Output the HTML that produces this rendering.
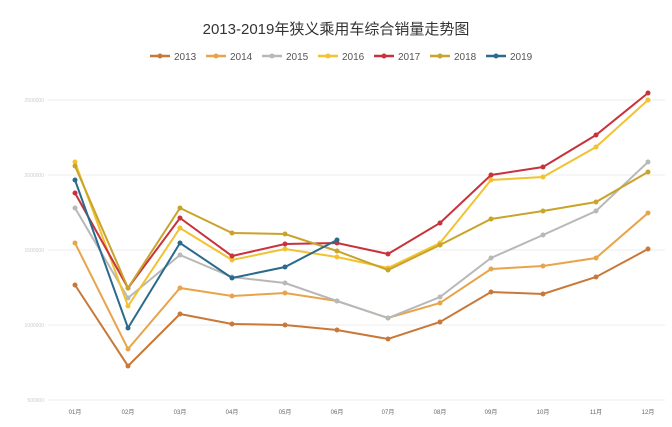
<!DOCTYPE html>
<html><head><meta charset="utf-8"><style>
body{margin:0;background:#fff}
svg{display:block;font-family:"Liberation Sans","Noto Sans CJK SC",sans-serif}
</style></head><body>
<svg id="s" width="672" height="427" viewBox="0 0 672 427">
<rect width="672" height="427" fill="#fff"/>
<text x="336" y="34" text-anchor="middle" font-size="15" fill="#333">2013-2019年狭义乘用车综合销量走势图</text>
<g stroke="#ececec" stroke-width="1">
<line x1="48" x2="665" y1="100" y2="100"/><line x1="48" x2="665" y1="175" y2="175"/>
<line x1="48" x2="665" y1="250" y2="250"/><line x1="48" x2="665" y1="325" y2="325"/>
<line x1="48" x2="665" y1="400" y2="400"/>
</g>
<g font-size="5" fill="#ccc" text-anchor="end">
<text x="44" y="102">2500000</text><text x="44" y="177">2000000</text>
<text x="44" y="252">1500000</text><text x="44" y="327">1000000</text><text x="44" y="402">500000</text>
</g>
<g id="x" font-size="6" fill="#666" text-anchor="middle"></g>
<g id="lg" font-size="10" fill="#555"></g>
<g id="ln"></g>
</svg>
<script>
var xs=[75,128,180,232,285,337,388,440,491,543,596,648];
var S=[
["2013","#c8793a",[285,366,314,324,325,330,339,322,292,294,277,249]],
["2014","#e8a44a",[243,349,288,296,293,301,318,303,269,266,258,213]],
["2015","#b8b8b8",[208,298,255,277,283,301,318,297,258,235,211,162]],
["2016","#f2c230",[162,306,228,260,249,257,268,243,180,177,147,100]],
["2017","#c8323c",[193,288,218,256,244,243,254,223,175,167,135,93]],
["2018","#c9a32a",[166,288,208,233,234,251,270,245,219,211,202,172]],
["2019","#2a6a8c",[180,328,243,278,267,240]]];
var ns="http://www.w3.org/2000/svg";
function el(t,a,p,txt){var e=document.createElementNS(ns,t);for(var k in a)e.setAttribute(k,a[k]);if(txt)e.textContent=txt;document.getElementById(p).appendChild(e);}
xs.forEach(function(x,i){el("text",{x:x,y:414},"x",(i<9?"0":"")+(i+1)+"月");});
var lx=[150,206,262,318,374,430,486];
S.forEach(function(s,i){
 var x=lx[i];
 el("line",{x1:x,x2:x+20,y1:56,y2:56,stroke:s[1],"stroke-width":2.5},"lg");
 el("circle",{cx:x+10,cy:56,r:2.5,fill:s[1]},"lg");
 el("text",{x:x+24,y:60},"lg",s[0]);
 var pts=s[2].map(function(y,j){return xs[j]+","+y;}).join(" ");
 el("polyline",{points:pts,fill:"none",stroke:s[1],"stroke-width":2},"ln");
 s[2].forEach(function(y,j){el("circle",{cx:xs[j],cy:y,r:2.5,fill:s[1]},"ln");});
});
</script>
</body></html>
